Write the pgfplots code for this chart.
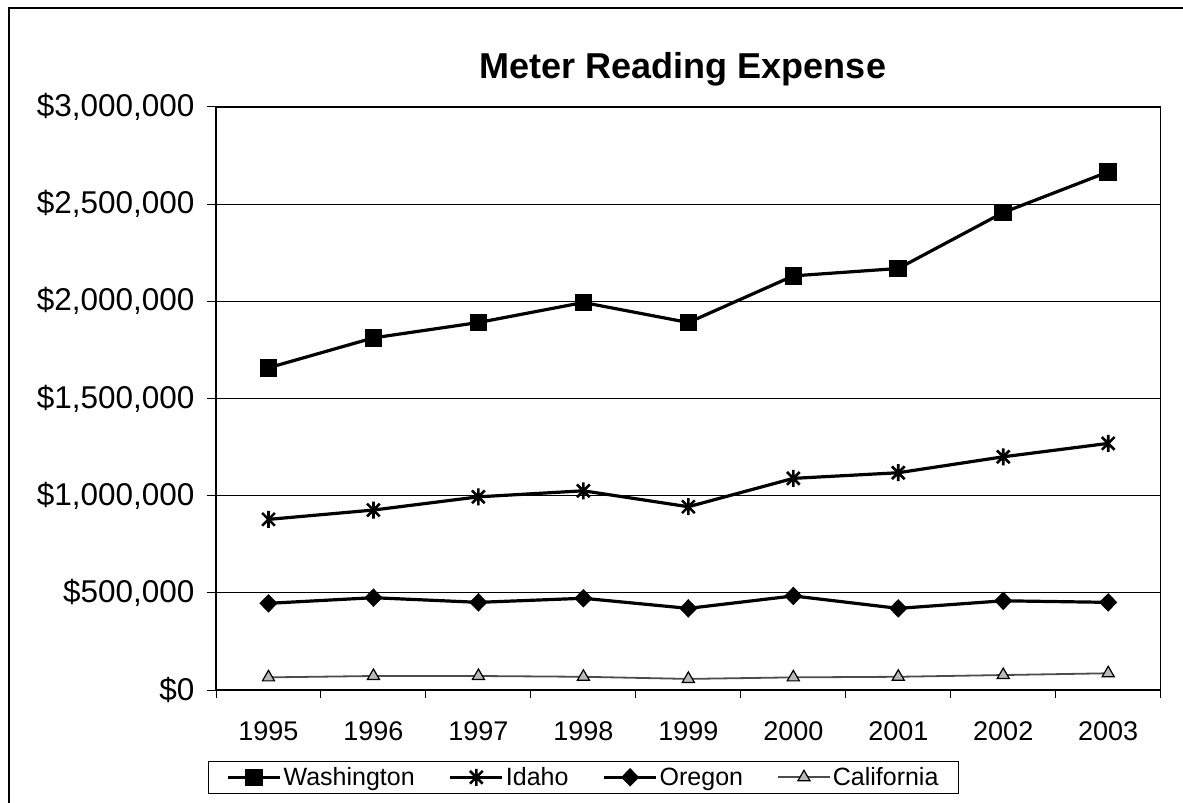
\documentclass[border=0pt]{standalone}
\usepackage{fontspec}
\setmainfont{Liberation Sans}
\usepackage{pgfplots}
\pgfplotsset{compat=1.18}
\pgfdeclareplotmark{xlstar}{%
  \pgfpathmoveto{\pgfqpoint{0pt}{\pgfplotmarksize}}%
  \pgfpathlineto{\pgfqpoint{0pt}{-\pgfplotmarksize}}%
  \pgfpathmoveto{\pgfqpoint{-0.75\pgfplotmarksize}{0.75\pgfplotmarksize}}%
  \pgfpathlineto{\pgfqpoint{0.75\pgfplotmarksize}{-0.75\pgfplotmarksize}}%
  \pgfpathmoveto{\pgfqpoint{-0.75\pgfplotmarksize}{-0.75\pgfplotmarksize}}%
  \pgfpathlineto{\pgfqpoint{0.75\pgfplotmarksize}{0.75\pgfplotmarksize}}%
  \pgfusepathqstroke}
\begin{document}
\begin{tikzpicture}
\useasboundingbox (0bp,0bp) rectangle (1183bp,803bp);
\draw[line width=1.5bp] (9bp,0bp) -- (9bp,795bp) -- (1183bp,795bp);
\node[font=\fontsize{36bp}{40bp}\selectfont\bfseries, anchor=base] at (683bp,724bp) {Meter Reading Expense};
\begin{axis}[
  scale only axis,
  width=944.7bp, height=583bp,
  at={(216bp,113bp)}, anchor=south west,
  xmin=-0.5, xmax=8.5,
  ymin=0, ymax=3000000,
  xtick={0,...,8},
  xticklabels={1995,1996,1997,1998,1999,2000,2001,2002,2003},
  minor xtick={-0.5,0.5,...,8.5},
  ytick={0,500000,1000000,1500000,2000000,2500000,3000000},
  yticklabels={\$0,{\$500,000},{\$1,000,000},{\$1,500,000},{\$2,000,000},{\$2,500,000},{\$3,000,000}},
  scaled y ticks=false,
  tick align=outside,
  xtick pos=bottom, ytick pos=left,
  major x tick style={draw=none},
  minor tick length=8bp,
  major tick length=9bp,
  every tick/.style={black, line width=1bp},
  ymajorgrids,
  major grid style={black, line width=1.1bp},
  axis line style={black, line width=1.3bp},
  xticklabel style={font=\fontsize{27bp}{29bp}\selectfont, yshift=-19bp},
  yticklabel style={font=\fontsize{31.5bp}{33bp}\selectfont, xshift=-9bp},
  legend columns=4,
  legend style={at={(-0.0085,-0.1218)}, anchor=north west, draw=black, line width=1bp,
    font=\fontsize{25bp}{27bp}\selectfont, inner xsep=18bp, inner ysep=4bp,
    /tikz/every even column/.append style={column sep=32bp}},
  legend image code/.code={\draw[mark repeat=2,mark phase=2] plot coordinates {(0bp,0bp) (26bp,0bp) (52bp,0bp)};},
  clip=false,
]
\addplot[black, line width=3.2bp, mark=square*, mark size=7.2bp] coordinates {
(0,1658000) (1,1812000) (2,1891000) (3,1994000) (4,1891000) (5,2131000) (6,2169000) (7,2457000) (8,2666000)};
\addlegendentry{Washington}
\addplot[black, line width=3.2bp, mark=xlstar, mark size=8.5bp, mark options={line width=2.6bp}] coordinates {
(0,878000) (1,926000) (2,994000) (3,1025000) (4,943000) (5,1089000) (6,1118000) (7,1200000) (8,1269000)};
\addlegendentry{Idaho}
\addplot[black, line width=3.2bp, mark=diamond*, mark size=7bp, mark options={xscale=1.3}] coordinates {
(0,446000) (1,475000) (2,451000) (3,472000) (4,420000) (5,484000) (6,420000) (7,459000) (8,451000)};
\addlegendentry{Oregon}
\addplot[black!70, line width=1.8bp, mark=triangle*, mark size=7bp, mark options={fill=gray!55, draw=black, line width=1.2bp}] coordinates {
(0,65000) (1,72000) (2,72000) (3,68000) (4,57000) (5,65000) (6,68000) (7,77000) (8,86000)};
\addlegendentry{California}
\end{axis}
\end{tikzpicture}
\end{document}
